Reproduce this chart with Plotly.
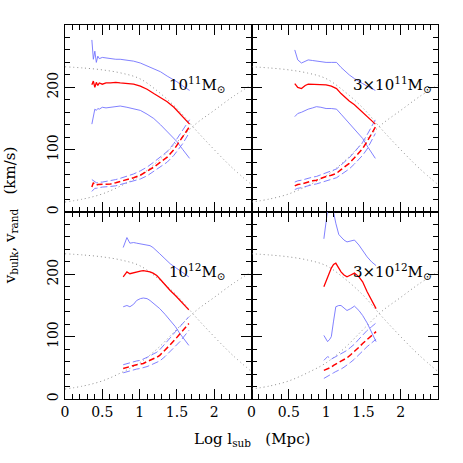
import plotly.graph_objects as go
from plotly.subplots import make_subplots

# dotted reference curves (same in every panel)
dot_x = [0, 0.25, 0.5, 0.75, 1.0, 1.25, 1.5, 1.75, 2.0, 2.25, 2.5]
dot_down = [233, 231, 228, 223, 214, 193, 166, 132, 100, 70, 44]
dot_up = [16, 21, 29, 42, 58, 82, 112, 141, 163, 185, 204]

# 10^11 Msun
m11_x = [0.36, 0.38, 0.40, 0.42, 0.44, 0.46, 0.50, 0.55, 0.61, 0.68, 0.74,
         0.83, 0.92, 1.01, 1.10, 1.19, 1.28, 1.37, 1.46, 1.50, 1.58, 1.67]
m11_solid = [204, 210, 200, 208, 203, 207, 205, 207, 207, 208, 207,
             206, 205, 202, 197, 190, 184, 177, 168, 163, 153, 141]
m11_solid_hi = [276, 245, 258, 240, 250, 246, 248, 247, 247, 245, 245,
                244, 242, 239, 234, 230, 225, 218, 212, 209, 202, 195]
m11_solid_lo = [141, 155, 165, 163, 166, 165, 168, 167, 168, 169, 170,
                168, 166, 163, 157, 150, 140, 129, 118, 113, 100, 86]
m11_dash = [40, 47, 44, 43, 44, 44, 44, 45, 45, 47, 49,
            51, 55, 59, 65, 72, 80, 88, 100, 107, 120, 137]
m11_dash_hi = [52, 50, 48, 47, 47, 48, 48, 49, 50, 52, 54,
               57, 61, 66, 72, 80, 88, 97, 110, 117, 131, 148]
m11_dash_lo = [33, 36, 38, 38, 39, 39, 40, 40, 41, 42, 44,
               46, 49, 53, 58, 65, 72, 80, 91, 97, 110, 128]

# 3x10^11 Msun
m3e11_x = [0.58, 0.62, 0.67, 0.72, 0.76, 0.82, 0.87, 0.93, 1.0, 1.07,
           1.14, 1.2, 1.27, 1.31, 1.38, 1.45, 1.49, 1.55, 1.6, 1.66]
m3e11_solid = [206, 200, 198, 203, 205, 205, 204, 204, 204, 202,
               198, 190, 182, 178, 172, 164, 160, 153, 147, 141]
m3e11_solid_hi = [260, 244, 239, 242, 244, 243, 242, 241, 240, 240,
                  240, 232, 224, 220, 214, 208, 206, 202, 199, 195]
m3e11_solid_lo = [153, 158, 160, 163, 165, 167, 169, 168, 166, 166,
                  165, 157, 148, 142, 133, 124, 118, 106, 97, 86]
m3e11_dash = [42, 44, 45, 47, 48, 50, 51, 54, 57, 59,
              62, 68, 74, 78, 87, 96, 102, 113, 124, 136]
m3e11_dash_hi = [48, 50, 51, 53, 54, 56, 57, 60, 63, 66,
                 69, 75, 82, 87, 96, 106, 112, 124, 136, 148]
m3e11_dash_lo = [36, 38, 39, 41, 42, 44, 45, 47, 50, 52,
                 55, 60, 65, 69, 77, 86, 91, 101, 112, 126]

# 10^12 Msun
m12_x = [0.78, 0.83, 0.87, 0.92, 0.96, 1.01, 1.05, 1.10, 1.14,
         1.18, 1.23, 1.27, 1.34, 1.41, 1.48, 1.54, 1.60, 1.66]
m12_solid = [196, 204, 201, 202, 204, 205, 206, 205, 204,
             202, 198, 193, 183, 174, 166, 158, 150, 143]
m12_solid_hi = [243, 259, 250, 251, 250, 249, 249, 248, 246,
                243, 238, 233, 225, 217, 211, 206, 201, 196]
m12_solid_lo = [148, 150, 148, 152, 158, 161, 162, 161, 158,
                154, 150, 145, 136, 126, 116, 105, 96, 86]
m12_dash = [49, 51, 52, 54, 55, 56, 57, 60, 62,
            65, 67, 70, 78, 87, 96, 104, 112, 121]
m12_dash_hi = [55, 57, 58, 60, 61, 62, 64, 67, 69,
               72, 75, 79, 88, 98, 108, 116, 124, 132]
m12_dash_lo = [42, 44, 45, 47, 48, 49, 50, 52, 54,
               56, 58, 61, 68, 76, 84, 92, 101, 110]

# 3x10^12 Msun
m3e12_x = [0.97, 1.02, 1.05, 1.07, 1.10, 1.13, 1.17, 1.20, 1.24,
           1.28, 1.33, 1.38, 1.44, 1.49, 1.55, 1.61, 1.67]
m3e12_solid = [180, 196, 204, 210, 216, 218, 210, 204, 199,
               196, 199, 202, 196, 188, 172, 158, 145]
m3e12_solid_hi = [257, 312, 330, 335, 300, 282, 264, 260, 255,
                  252, 253, 255, 247, 238, 228, 220, 214]
m3e12_solid_lo = [102, 92, 96, 100, 125, 148, 150, 150, 146,
                  142, 145, 149, 142, 134, 122, 106, 92]
m3e12_dash = [46, 48, 50, 51, 54, 56, 58, 60, 63,
              66, 71, 76, 83, 89, 95, 101, 108]
m3e12_dash_hi = [62, 68, 66, 64, 66, 68, 70, 72, 75,
                 78, 83, 88, 96, 103, 110, 116, 122]
m3e12_dash_lo = [33, 36, 38, 40, 42, 44, 46, 48, 51,
                 54, 59, 64, 71, 78, 84, 90, 96]

panel_labels = ["10<sup>11</sup>M<sub>⊙</sub>", "3×10<sup>11</sup>M<sub>⊙</sub>",
                "10<sup>12</sup>M<sub>⊙</sub>", "3×10<sup>12</sup>M<sub>⊙</sub>"]

panels = [
    (1, 1, m11_x, m11_solid, m11_solid_hi, m11_solid_lo, m11_dash, m11_dash_hi, m11_dash_lo),
    (1, 2, m3e11_x, m3e11_solid, m3e11_solid_hi, m3e11_solid_lo, m3e11_dash, m3e11_dash_hi, m3e11_dash_lo),
    (2, 1, m12_x, m12_solid, m12_solid_hi, m12_solid_lo, m12_dash, m12_dash_hi, m12_dash_lo),
    (2, 2, m3e12_x, m3e12_solid, m3e12_solid_hi, m3e12_solid_lo, m3e12_dash, m3e12_dash_hi, m3e12_dash_lo),
]

BLUE = "#7373ff"
RED = "#ff0000"
GRAY = "#8c8c8c"
FONT = "DejaVu Serif"

fig = make_subplots(rows=2, cols=2, shared_xaxes=True, shared_yaxes=True,
                    horizontal_spacing=0, vertical_spacing=0)

for i, (r, c, x, s, shi, slo, d, dhi, dlo) in enumerate(panels):
    for y in (dot_down, dot_up):
        fig.add_trace(go.Scatter(x=dot_x, y=y, mode="lines",
                                 line=dict(color=GRAY, width=1, dash="1px,3px", shape="spline")), row=r, col=c)
    for y in (shi, slo):
        fig.add_trace(go.Scatter(x=x, y=y, mode="lines", line=dict(color=BLUE, width=0.9)), row=r, col=c)
    for y in (dhi, dlo):
        fig.add_trace(go.Scatter(x=x, y=y, mode="lines", line=dict(color=BLUE, width=0.9, dash="7px,3px")), row=r, col=c)
    fig.add_trace(go.Scatter(x=x, y=s, mode="lines", line=dict(color=RED, width=1.3)), row=r, col=c)
    fig.add_trace(go.Scatter(x=x, y=d, mode="lines", line=dict(color=RED, width=1.5, dash="6px,3px")), row=r, col=c)
    fig.add_annotation(x=1.77 if c == 1 else 1.89, y=204, text=panel_labels[i], showarrow=False,
                       font=dict(family=FONT, size=15, color="black"), row=r, col=c)

axis_common = dict(showline=True, linecolor="black", linewidth=1.3, mirror="allticks",
                   ticks="inside", ticklen=10, tickwidth=1.2, tickcolor="black",
                   showgrid=False, zeroline=False, automargin=False,
                   tickfont=dict(family=FONT, size=14, color="black"))

fig.update_xaxes(range=[0, 2.5], tickvals=[0, 0.5, 1, 1.5, 2], ticktext=["0", "0.5", "1", "1.5", "2"],
                 minor=dict(ticks="inside", ticklen=5, tickmode="linear", tick0=0, dtick=0.1, tickcolor="black", tickwidth=1),
                 **axis_common)
fig.update_yaxes(range=[0, 300], tickvals=[0, 100, 200], tickangle=-90,
                 minor=dict(ticks="inside", ticklen=5, tickmode="linear", tick0=0, dtick=20, tickcolor="black", tickwidth=1),
                 **axis_common)

fig.add_annotation(text="Log l<sub>sub</sub>   (Mpc)", x=0.5, y=-0.108, xref="paper", yref="paper",
                   showarrow=False, font=dict(family=FONT, size=15, color="black"), yanchor="middle")
fig.add_annotation(text="v<sub>bulk</sub>, v<sub>rand</sub>   (km/s)", x=-0.146, y=0.49, xref="paper", yref="paper",
                   textangle=-90, showarrow=False, font=dict(family=FONT, size=15, color="black"),
                   xanchor="center", yanchor="middle")

fig.update_layout(width=463, height=463, showlegend=False,
                  margin=dict(l=65, r=25, t=25, b=64, autoexpand=False),
                  plot_bgcolor="white", paper_bgcolor="white")

# drop the default page margin so the figure sits at the window corner
fig.write_html("out.html", config={"displayModeBar": False},
               post_script="document.body.style.margin='0';")
